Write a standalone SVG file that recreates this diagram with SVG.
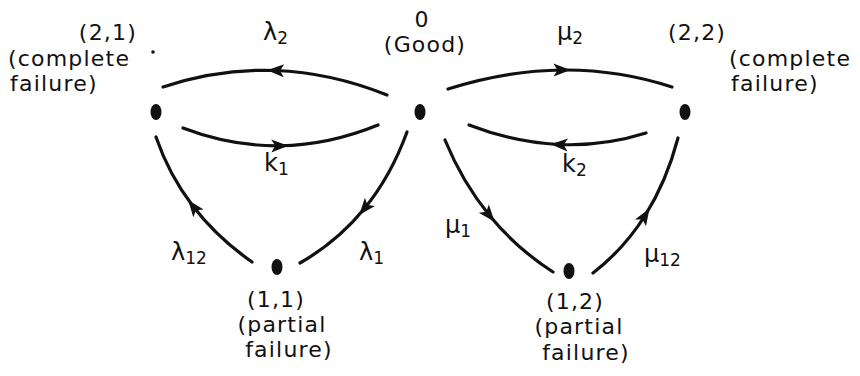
<svg xmlns="http://www.w3.org/2000/svg" width="860" height="376" viewBox="0 0 860 376">
<style>
.t{font-family:"DejaVu Sans","Liberation Sans",sans-serif;font-size:22px;letter-spacing:1.2px;fill:#111}
.g{font-family:"DejaVu Sans","Liberation Sans",sans-serif;font-size:24px;fill:#111}
.s{font-size:17px}
.e{fill:none;stroke:#111;stroke-width:3.2;stroke-linecap:round;marker-mid:url(#arr)}
.n{fill:#111}
</style>
<defs>
<marker id="arr" viewBox="-11 -8 20 16" markerWidth="20" markerHeight="16" refX="0" refY="0" orient="auto" markerUnits="userSpaceOnUse">
<path d="M8,0 L-9,-6.5 L-5,0 L-9,6.5 Z" fill="#111"/>
</marker>
</defs>
<rect width="860" height="376" fill="#fff"/>
<g id="connectors">
<path class="e" d="M387,95 Q331,72.5 275,70.5 Q219,68.5 163,87"/>
<path class="e" d="M183,128 Q231.5,146.5 280.25,145.75 Q329,145 378,125"/>
<path class="e" d="M448,89 Q506.5,70.5 562.5,70 Q618.5,69.5 672,87"/>
<path class="e" d="M646,133 Q603,146.5 558.75,144.5 Q514.5,142.5 469,125"/>
<path class="e" d="M252,262 Q217,237.5 193,206.25 Q169,175 156,137"/>
<path class="e" d="M407,132 Q391,176 364.25,208.75 Q337.5,241.5 300,263"/>
<path class="e" d="M445,140 Q462.5,182.5 489.5,215.5 Q516.5,248.5 553,272"/>
<path class="e" d="M593,273 Q624,249 645.25,215.25 Q666.5,181.5 678,138"/>
<text class="g" x="263" y="40">λ<tspan class="s" dy="4">2</tspan></text>
<text class="g" x="264" y="171">k<tspan class="s" dy="4">1</tspan></text>
<text class="g" x="557" y="40">μ<tspan class="s" dy="4">2</tspan></text>
<text class="g" x="562" y="172">k<tspan class="s" dy="4">2</tspan></text>
<text class="g" x="171" y="260">λ<tspan class="s" dy="4">12</tspan></text>
<text class="g" x="359" y="260">λ<tspan class="s" dy="4">1</tspan></text>
<text class="g" x="445" y="233">μ<tspan class="s" dy="4">1</tspan></text>
<text class="g" x="644" y="262">μ<tspan class="s" dy="4">12</tspan></text>
</g>
<circle cx="153" cy="52" r="1.8" class="n"/>
<g id="node-2-1">
<ellipse cx="156" cy="112" rx="5.5" ry="8" class="n"/>
<text class="t" x="137" y="40" text-anchor="end">(2,1)</text>
<text class="t" x="8" y="66">(complete</text>
<text class="t" x="10" y="91">failure)</text>
</g>
<g id="node-0">
<ellipse cx="420" cy="112" rx="5.5" ry="8" class="n"/>
<text class="t" x="422" y="27" text-anchor="middle">0</text>
<text class="t" x="425" y="52" text-anchor="middle">(Good)</text>
</g>
<g id="node-2-2">
<ellipse cx="685" cy="112" rx="5.5" ry="8" class="n"/>
<text class="t" x="668" y="40">(2,2)</text>
<text class="t" x="729" y="66">(complete</text>
<text class="t" x="731" y="91">failure)</text>
</g>
<g id="node-1-1">
<ellipse cx="277" cy="267" rx="5.5" ry="8" class="n"/>
<text class="t" x="276" y="307" text-anchor="middle">(1,1)</text>
<text class="t" x="282" y="332" text-anchor="middle">(partial</text>
<text class="t" x="289" y="357" text-anchor="middle">failure)</text>
</g>
<g id="node-1-2">
<ellipse cx="569" cy="271" rx="5.5" ry="8" class="n"/>
<text class="t" x="575" y="309" text-anchor="middle">(1,2)</text>
<text class="t" x="579" y="334" text-anchor="middle">(partial</text>
<text class="t" x="586" y="360" text-anchor="middle">failure)</text>
</g>
</svg>
